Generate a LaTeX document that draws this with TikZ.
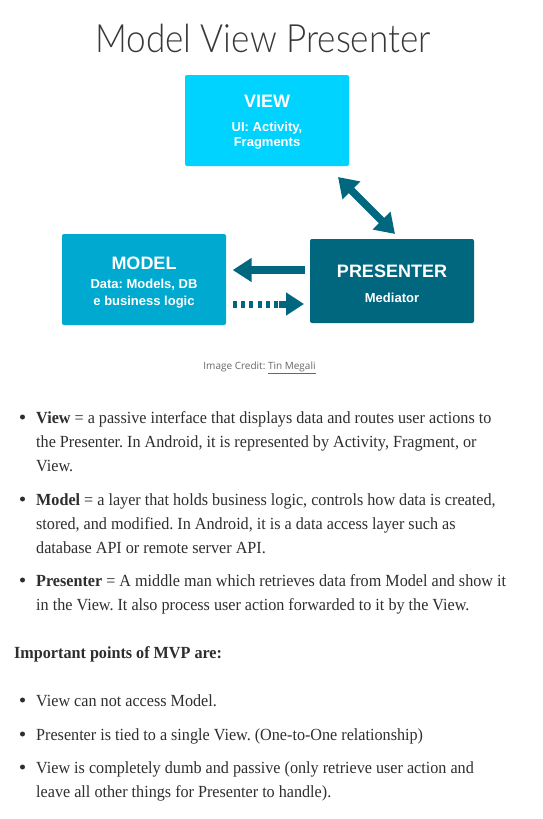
\documentclass[tikz,border=0pt]{standalone}
\usepackage{fontspec}
\setmainfont{Liberation Serif}[FakeStretch=0.95]
\newfontfamily\titlefont{Lato Light}[FakeStretch=0.9]
\newfontfamily\boxfont{Liberation Sans}
\newfontfamily\capfont{Open Sans}
\usetikzlibrary{arrows.meta}
\definecolor{viewc}{HTML}{00D3FF}
\definecolor{modelc}{HTML}{00A9CF}
\definecolor{presc}{HTML}{00677F}
\definecolor{bodyc}{HTML}{2E2E2E}
\definecolor{capc}{HTML}{666666}
\frenchspacing
\tikzset{
  box/.style={fill=#1, rounded corners=2pt, draw=none, inner sep=0pt},
  boxtitle/.style={text=white, font=\boxfont\bfseries\fontsize{18}{20}\selectfont, anchor=base, inner sep=0pt},
  boxsub/.style={text=white, font=\boxfont\bfseries\fontsize{13}{15}\selectfont, anchor=base, inner sep=0pt},
  conn/.style={draw=presc, line width=7.5pt},
  tipA/.style={-{Triangle[length=19pt,width=23pt]}},
  tipB/.style={{Triangle[length=19pt,width=24pt]}-{Triangle[length=19pt,width=24pt]}},
  line/.style={anchor=base west, inner sep=0pt, text=bodyc, font=\frenchspacing\fontsize{17}{20}\selectfont},
  bul/.style={circle, fill=bodyc, inner sep=0pt, minimum size=5pt},
}
\begin{document}
\begin{tikzpicture}[x=1pt,y=-1pt]
\useasboundingbox (0,0) rectangle (543,819);
% title
\node[anchor=base, inner sep=0pt, text=black!78, font=\titlefont\fontsize{39}{44}\selectfont] (title) at (263,52) {Model View Presenter};
% boxes
\path[box=viewc] (185,75) rectangle (349,166);
\node[minimum width=164pt, minimum height=91pt, inner sep=0pt] (view) at (267,120.5) {};
\path[box=modelc] (62,234) rectangle (226,325);
\node[minimum width=164pt, minimum height=91pt, inner sep=0pt] (model) at (144,279.5) {};
\path[box=presc] (310,239) rectangle (474,323);
\node[minimum width=164pt, minimum height=84pt, inner sep=0pt] (pres) at (392,281) {};
% box texts
\node[boxtitle] (vt) at (267,107) {VIEW};
\node[boxsub] (vs1) at (267,131) {UI: Activity,};
\node[boxsub] (vs2) at (267,146) {Fragments};
\node[boxtitle] (mt) at (144,269) {MODEL};
\node[boxsub] (ms1) at (144,288) {Data: Models, DB};
\node[boxsub] (ms2) at (144,305) {e business logic};
\node[boxtitle] (pt) at (392,277) {PRESENTER};
\node[boxsub] (ps1) at (392,302) {Mediator};
% connectors
\coordinate (va) at (338,177);
\coordinate (pa) at (395,234);
\draw[conn, tipB] (va) -- (pa);
\coordinate (l1) at (305,270);
\coordinate (l2) at (232.7,270);
\draw[conn, tipA] (l1) -- (l2);
\coordinate (d1) at (232.7,304);
\coordinate (d2) at (279,304);
\coordinate (d3) at (279,304);
\coordinate (d4) at (304,304);
\draw[draw=presc, line width=7pt, dash pattern=on 4pt off 4.33pt] (d1) -- (d2);
\draw[conn, line width=7pt, -{Triangle[length=18pt,width=22pt]}] (d3) -- (d4);
% caption
\node[anchor=base, inner sep=0pt, text=capc, font=\capfont\fontsize{10}{12}\selectfont] (cap) at (259.5,369) {Image Credit: \underline{Tin Megali}};
% body
\node[bul] (b1) at (22.5,417) {};
\node[line] (t1) at (36,423) {\textbf{View} = a passive interface that displays data and routes user actions to};
\node[line] (t2) at (36,447) {the Presenter. In Android, it is represented by Activity, Fragment, or};
\node[line] (t3) at (36,471) {View.};
\node[bul] (b2) at (22.5,499) {};
\node[line] (t4) at (36,505) {\textbf{Model} = a layer that holds business logic, controls how data is created,};
\node[line] (t5) at (36,529) {stored, and modified. In Android, it is a data access layer such as};
\node[line] (t6) at (36,553) {database API or remote server API.};
\node[bul] (b3) at (22.5,580) {};
\node[line] (t7) at (36,586) {\textbf{Presenter} = A middle man which retrieves data from Model and show it};
\node[line] (t8) at (36,610) {in the View. It also process user action forwarded to it by the View.};
\node[line] (t9) at (14,658) {\textbf{Important points of MVP are:}};
\node[bul] (b4) at (22.5,700) {};
\node[line] (t10) at (36,706) {View can not access Model.};
\node[bul] (b5) at (22.5,734) {};
\node[line] (t11) at (36,740) {Presenter is tied to a single View. (One-to-One relationship)};
\node[bul] (b6) at (22.5,767) {};
\node[line] (t12) at (36,773) {View is completely dumb and passive (only retrieve user action and};
\node[line] (t13) at (36,797) {leave all other things for Presenter to handle).};
\end{tikzpicture}
\end{document}
